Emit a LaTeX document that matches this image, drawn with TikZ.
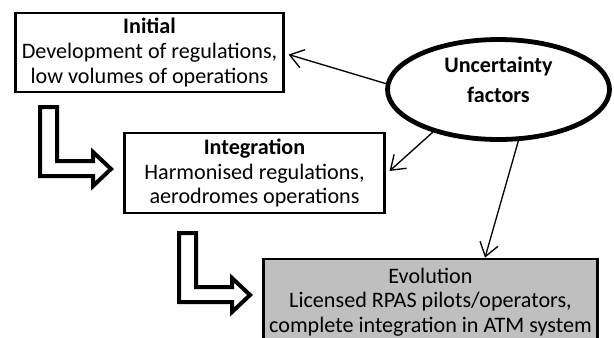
\documentclass[tikz,border=0pt]{standalone}
\usepackage{fontspec}
\setmainfont{Carlito}
\usetikzlibrary{shapes.geometric,arrows.meta,calc}

\tikzset{
  stage/.style={draw, line width=1.6pt, align=center, inner sep=0pt,
    font=\fontsize{16.6}{18.4}\selectfont},
  factor/.style={draw, ellipse, line width=3.6pt, inner sep=0pt},
  influence/.style={line width=1pt, -{Straight Barb[length=10pt,width=14pt]}},
  phase/.style={line width=3pt, line join=miter},
}

\begin{document}
\begin{tikzpicture}[x=0.75pt,y=0.75pt,yscale=-1,xscale=1]
\clip (0,0) rectangle (614,337);

% Stages
\node[stage, minimum width=201pt, minimum height=59.25pt] (init) at (149.5,52.5) {\textbf{Initial}\\Development of regulations,\\low volumes of operations};
\node[stage, minimum width=195pt, minimum height=60pt] (integ) at (254.5,173) {\textbf{Integration}\\Harmonised regulations,\\aerodromes operations};
\node[stage, fill=black!25, line width=2pt, minimum width=250.5pt, minimum height=64.5pt] (evol) at (430.5,302) {Evolution\\Licensed RPAS pilots/operators,\\complete integration in ATM system};

% Uncertainty factors
\node[factor, minimum width=166.5pt, minimum height=75pt] (unc) at (498.5,89.5) {};
\node[align=center, font=\bfseries\fontsize{16.6}{22.5}\selectfont] (unclabel) at (498.5,80) {Uncertainty\\factors};

% Influence arrows
\draw[influence] (unc.177) -- ($(init.east)+(4,2)$);
\draw[influence] (unc.213) -- ($(integ.east)+(4,-2)$);
\draw[influence] (unc.291) -- ($(evol.north)+(54.5,0)$);

% Phase arrows
\draw[phase] (40,107) -- (57,107) -- (57,161) -- (93,161) -- (93,152) -- (111,169) -- (93,186) -- (93,176) -- (40,176) -- cycle;
\draw[phase] (179,233) -- (196,233) -- (196,287) -- (232,287) -- (232,278) -- (250,295) -- (232,312) -- (232,302) -- (179,302) -- cycle;

\end{tikzpicture}
\end{document}
